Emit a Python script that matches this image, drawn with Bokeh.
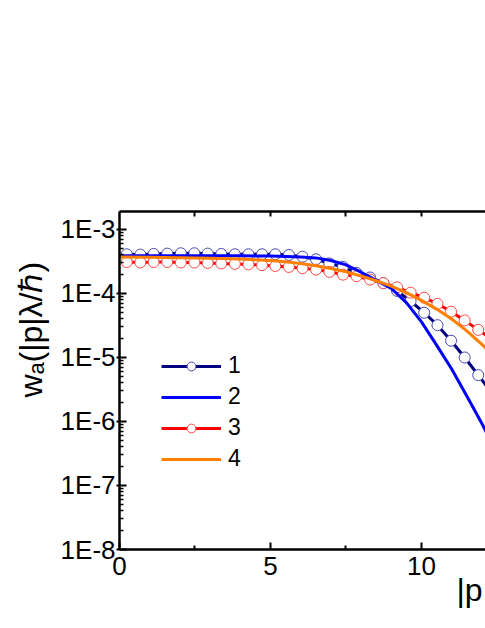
from bokeh.plotting import figure
from bokeh.models import (Range1d, LinearAxis, FixedTicker, CustomJSTickFormatter,
                          Legend, LegendItem, Title)
from bokeh.embed import file_html
from bokeh.resources import INLINE

# ---- data ----
x_markers = [0.24, 0.69, 1.13, 1.58, 2.03, 2.48, 2.92, 3.37, 3.82, 4.27, 4.72, 5.16, 5.61,
             6.06, 6.51, 6.95, 7.40, 7.85, 8.30, 8.74, 9.19, 9.64, 10.09, 10.53, 10.98,
             11.43, 11.88, 12.33]
w1 = [4.1e-4, 4.05e-4, 4.15e-4, 4.2e-4, 4.25e-4, 4.25e-4, 4.2e-4, 4.15e-4, 4.1e-4, 4.1e-4,
      4.1e-4, 4.1e-4, 4.0e-4, 3.76e-4, 3.42e-4, 2.95e-4, 2.6e-4, 2.1e-4, 1.78e-4, 1.45e-4,
      1.1e-4, 7.6e-5, 5.0e-5, 3.2e-5, 1.83e-5, 1.0e-5, 5.3e-6, 2.8e-6]
w3 = [3.1e-4, 3.05e-4, 3.1e-4, 3.1e-4, 3.05e-4, 3.05e-4, 3.0e-4, 2.95e-4, 2.9e-4, 2.85e-4,
      2.77e-4, 2.69e-4, 2.6e-4, 2.48e-4, 2.36e-4, 2.18e-4, 1.97e-4, 1.86e-4, 1.65e-4, 1.45e-4,
      1.25e-4, 1.03e-4, 8.6e-5, 6.9e-5, 5.2e-5, 3.8e-5, 2.7e-5, 1.95e-5]

x_curves = [0, 1, 2, 3, 4, 5, 5.5, 6, 6.5, 7, 7.5, 8, 8.5, 9, 9.5, 10, 10.5, 11, 11.5, 12, 12.5]
w2 = [3.88e-4, 3.88e-4, 3.88e-4, 3.88e-4, 3.87e-4, 3.85e-4, 3.8e-4, 3.72e-4, 3.6e-4, 3.28e-4,
      2.8e-4, 2.15e-4, 1.6e-4, 1.2e-4, 7.2e-5, 3.6e-5, 1.56e-5, 6.6e-6, 2.5e-6, 9.3e-7, 3.2e-7]
w4 = [3.7e-4, 3.68e-4, 3.63e-4, 3.55e-4, 3.46e-4, 3.28e-4, 3.14e-4, 2.95e-4, 2.72e-4, 2.45e-4,
      2.18e-4, 1.88e-4, 1.58e-4, 1.3e-4, 1.03e-4, 7.8e-5, 5.7e-5, 4.0e-5, 2.6e-5, 1.6e-5, 9.5e-6]

series_labels = ["1", "2", "3", "4"]
x_major = [0, 5, 10]
x_minor = [2.5, 7.5]
exponents = [-8, -7, -6, -5, -4, -3]
y_title = "wₐ(|p|λ/ℏ)"
x_title = "|p"

FONT = "Liberation Sans"

p = figure(width=485, height=628, x_range=Range1d(0, 12.12), y_range=Range1d(1e-8, 1.91e-3),
           y_axis_type="log", output_backend="svg", toolbar_location=None,
           min_border_left=119, min_border_right=0, min_border_top=211, min_border_bottom=79)
p.outline_line_color = None
p.grid.visible = False
p.background_fill_color = "white"

# bottom axis
xa = p.xaxis[0]
xa.ticker = FixedTicker(ticks=x_major, minor_ticks=x_minor)
xa.axis_line_width = 2.5
xa.major_tick_line_width = 2
xa.minor_tick_line_width = 2
xa.major_tick_in = 7
xa.major_tick_out = 0
xa.minor_tick_in = 4
xa.minor_tick_out = 0
xa.major_label_standoff = 7
xa.major_label_text_font = FONT
xa.major_label_text_font_size = "26px"
xa.major_label_text_color = "black"

# left axis
ya = p.yaxis[0]
ya.ticker = FixedTicker(ticks=[10.0 ** e for e in exponents],
                        minor_ticks=[m * 10.0 ** e for e in exponents for m in range(2, 10)])
ya.formatter = CustomJSTickFormatter(code="return '1E' + Math.round(Math.log10(tick));")
ya.axis_line_width = 2.5
ya.major_tick_line_width = 2
ya.minor_tick_line_width = 1.5
ya.major_tick_in = 7
ya.major_tick_out = 3
ya.minor_tick_in = 4
ya.minor_tick_out = 0
ya.major_label_standoff = 1
ya.major_label_text_font = FONT
ya.major_label_text_font_size = "26px"
ya.major_label_text_color = "black"

# top axis (ticks only)
top = LinearAxis(ticker=FixedTicker(ticks=[2.5, 5, 7.5, 10], minor_ticks=[]),
                 formatter=CustomJSTickFormatter(code="return '';"))
top.axis_line_width = 2.5
top.major_tick_line_width = 2
top.major_tick_in = 5
top.major_tick_out = 0
top.minor_tick_line_color = None
top.major_label_text_font_size = "1px"
p.add_layout(top, "above")

# series
l1 = p.line(x_markers, w1, line_color="#000080", line_width=3)
c1 = p.scatter(x_markers, w1, marker="circle", size=11, fill_color="white",
               line_color="#4848B0", line_width=1)
l3 = p.line(x_markers, w3, line_color="#FF0000", line_width=3)
c3 = p.scatter(x_markers, w3, marker="circle", size=11, fill_color="white",
               line_color="#FF4848", line_width=1)
l2 = p.line(x_curves, w2, line_color="#0000FF", line_width=3)
l4 = p.line(x_curves, w4, line_color="#FF8000", line_width=3)

legend = Legend(items=[LegendItem(label=series_labels[0], renderers=[l1, c1]),
                       LegendItem(label=series_labels[1], renderers=[l2]),
                       LegendItem(label=series_labels[2], renderers=[l3, c3]),
                       LegendItem(label=series_labels[3], renderers=[l4])],
                location=(42, 77), border_line_color=None, background_fill_alpha=0,
                glyph_width=60, glyph_height=22, label_height=22, spacing=4,
                padding=0, margin=0, label_standoff=7,
                label_text_font=FONT, label_text_font_size="23px",
                label_text_color="black")
p.add_layout(legend)

# axis titles
p.add_layout(Title(text=y_title, align="left", offset=152, text_font=FONT,
                   text_font_size="32px", text_font_style="normal",
                   text_color="black", standoff=18), "left")
p.add_layout(Title(text=x_title, align="left", offset=337, text_font=FONT,
                   text_font_size="32px", text_font_style="normal",
                   text_color="black", standoff=-15), "below")

open("out.html", "w").write(file_html(p, INLINE))
